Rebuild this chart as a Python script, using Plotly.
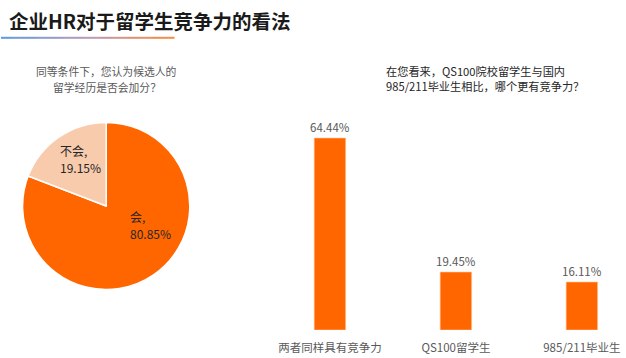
import plotly.graph_objects as go

W, H = 626, 358

# ---- data ----
main_title = '企业HR对于留学生竞争力的看法'
pie_title = ['同等条件下，您认为候选人的', '留学经历是否会加分？']
pie_labels = ['会', '不会']
pie_values = [80.85, 19.15]
pie_colors = ['#FF6600', '#F8CBAD']

bar_title = ['在您看来，QS100院校留学生与国内', '985/211毕业生相比，哪个更有竞争力？']
bar_categories = ['两者同样具有竞争力', 'QS100留学生', '985/211毕业生']
bar_values = [64.44, 19.45, 16.11]
bar_color = '#FF6600'

FONT = 'Noto Sans CJK SC'


def px(x):
    return x / W


def py(y):
    return 1 - y / H


fig = go.Figure()

fig.add_trace(go.Pie(
    labels=pie_labels, values=pie_values, sort=False,
    direction='clockwise', rotation=0,
    marker=dict(colors=pie_colors, line=dict(color='white', width=1.5)),
    textinfo='none', showlegend=False, hoverinfo='label+percent',
    domain=dict(x=[px(22.7), px(190.7)], y=[py(290), py(122)]),
))

fig.add_trace(go.Bar(
    x=bar_categories, y=bar_values, width=0.25,
    marker=dict(color=bar_color, line=dict(color='#FFC8A0', width=0.6)),
    text=[f'{v:.2f}%' for v in bar_values], textposition='outside',
    constraintext='none',
    textfont=dict(color='#595959', size=11.5, family=FONT),
    cliponaxis=False, showlegend=False, xaxis='x2', yaxis='y2',
))

annotations = []
# main title
annotations.append(dict(text=f'<b>{main_title}</b>', x=px(7), y=py(20), xref='paper', yref='paper',
                        xanchor='left', yanchor='middle', showarrow=False,
                        font=dict(size=19.5, color='#1a1a1a', family=FONT)))
# pie title (one annotation per line)
for i, line in enumerate(pie_title):
    annotations.append(dict(text=line, x=px(107.5), y=py(71.2 + 15.5 * i), xref='paper', yref='paper',
                            xanchor='center', yanchor='middle', showarrow=False, borderpad=0,
                            font=dict(size=10.8, color='#595959', family=FONT)))
# bar title
annotations.append(dict(text='<br>'.join(bar_title), x=px(385.5), y=py(78.4), xref='paper', yref='paper',
                        xanchor='left', yanchor='middle', align='left', showarrow=False,
                        font=dict(size=11.2, color='#262626', family=FONT)))
# pie slice labels
label_pos = {'会': (129, 216.7), '不会': (58, 150.7)}
for lab, val in zip(pie_labels, pie_values):
    x0, y0 = label_pos[lab]
    annotations.append(dict(text=f'{lab},', x=px(x0), y=py(y0), xref='paper', yref='paper',
                            xanchor='left', yanchor='middle', showarrow=False,
                            font=dict(size=12, color='#262626', family=FONT)))
    annotations.append(dict(text=f'{val:.2f}%', x=px(x0), y=py(y0 + 17), xref='paper', yref='paper',
                            xanchor='left', yanchor='middle', showarrow=False,
                            font=dict(size=12, color='#262626', family=FONT)))

# gradient underline (decoration)
def lerp(c1, c2, t):
    return tuple(round(a + (b - a) * t) for a, b in zip(c1, c2))

stops = [(0.0, (91, 155, 224)), (0.5, (185, 154, 185)), (1.0, (249, 138, 60))]
shapes = []
n = 60
x_start, x_end = 1, 175
for k in range(n):
    t = (k + 0.5) / n
    for j in range(len(stops) - 1):
        if stops[j][0] <= t <= stops[j + 1][0]:
            tt = (t - stops[j][0]) / (stops[j + 1][0] - stops[j][0])
            c = lerp(stops[j][1], stops[j + 1][1], tt)
            break
    xa = x_start + (x_end - x_start) * k / n
    xb = x_start + (x_end - x_start) * (k + 1) / n + 0.3
    shapes.append(dict(type='rect', xref='paper', yref='paper', x0=px(xa), x1=px(xb),
                       y0=py(38.8), y1=py(36.8), line=dict(width=0),
                       fillcolor=f'rgb{c}'))

fig.update_layout(
    width=W, height=H, margin=dict(l=0, r=0, t=0, b=0),
    paper_bgcolor='white', plot_bgcolor='white',
    font=dict(family=FONT),
    annotations=annotations, shapes=shapes,
    xaxis2=dict(domain=[px(270), px(620)], range=[-0.486, 2.279], anchor='y2',
                showgrid=False, zeroline=False, showline=False, ticks='',
                tickfont=dict(size=11.5, color='#595959', family=FONT),
                ticklabelstandoff=9),
    yaxis2=dict(domain=[py(330), py(100)], range=[0, 77.2], anchor='x2',
                showgrid=False, zeroline=False, showline=False, showticklabels=False),
)

fig.write_html('out.html', config={'displayModeBar': False},
               post_script="document.body.style.margin='0';document.body.style.overflow='hidden';")
